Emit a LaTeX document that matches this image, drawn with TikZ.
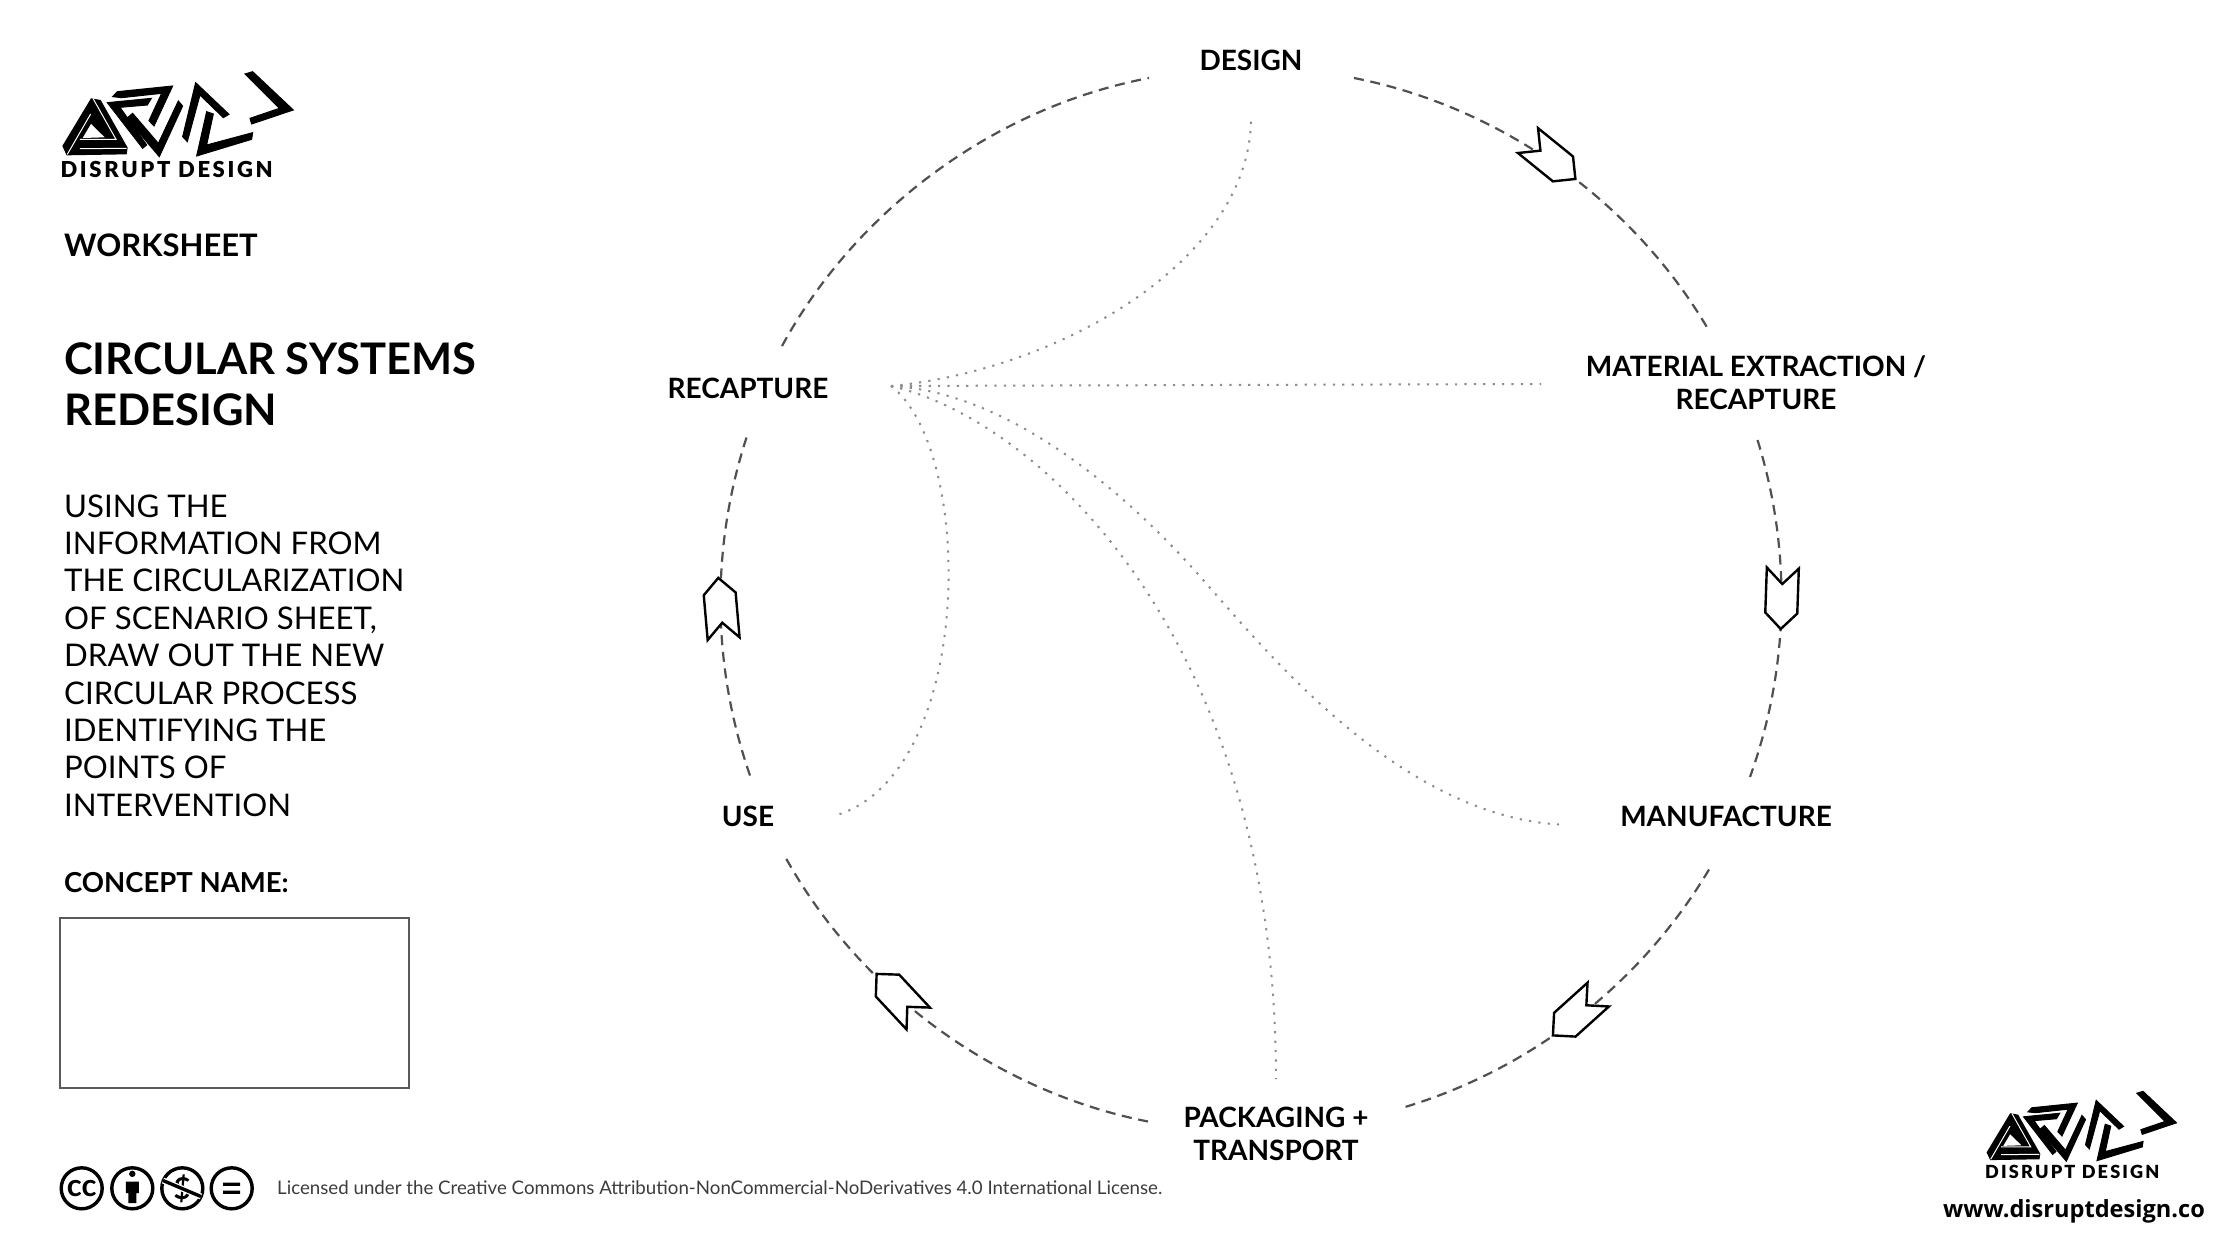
\documentclass[tikz,border=0pt]{standalone}
\usepackage{fontspec}
\setmainfont{Lato}
\newfontfamily\heavyfont{Lato Black}
\newfontfamily\webfont{Open Sans}
\definecolor{ringgray}{RGB}{80,80,80}
\definecolor{dotgray}{RGB}{140,140,140}
\definecolor{framegray}{RGB}{90,90,90}
\definecolor{licensegray}{RGB}{60,60,60}
\tikzset{
 stage/.style={align=center, inner sep=0pt, text=black, font=\bfseries\fontsize{28}{33}\selectfont},
 sidetext/.style={anchor=west, align=left, inner sep=0pt, text=black},
 ring/.style={draw=ringgray, line width=2.2pt, dash pattern=on 10pt off 6.7pt, bend left=#1, looseness=.88},
 reach/.style={draw=dotgray, line width=2pt, dash pattern=on 2.2pt off 7.2pt},
 badge/.style={draw=black, line width=3.4pt, circle, minimum size=41pt, inner sep=0pt},
 logoshape/.style={fill=black, draw=black, line width=1pt},
 chevron/.pic={
  \draw[black, line width=2.4pt, fill=white, line join=miter]
   (0,-22) -- (-16,-38) -- (-16,7) -- (0,23) -- (16,7) -- (16,-38) -- cycle;
 },
 logomark/.pic={
  % triangle
  \fill[black] (183,145) -- (97,288) -- (110,316) -- (290,313) -- (293,293) -- (212,150) -- cycle;
  \fill[white] (183,222) -- (158,264) -- (224,262) -- cycle;
  \draw[white, line width=1pt] (182,192) -- (112,313) (190,147) -- (258,268) -- (150,268) (150,296) -- (290,295);
  % R
  \path[logoshape] (248,140) -- (262,125) -- (428,108) -- (372,228) -- (357,212) -- (395,130) -- (275,143) -- cycle;
  \path[logoshape] (232,158) -- (364,145) -- (352,165) -- (270,172) -- (350,285) -- (338,295) -- cycle;
  % V
  \path[logoshape] (290,205) -- (308,190) -- (385,280) -- (445,153) -- (458,168) -- (388,320) -- cycle;
  % N
  \path[logoshape] (458,260) -- (497,98) -- (597,193) -- (580,203) -- (510,135) -- (472,275) -- cycle;
  \path[logoshape] (530,185) -- (550,192) -- (530,285) -- (668,248) -- (665,268) -- (500,318) -- cycle;
  % arrow
  \path[logoshape] (645,72) -- (668,65) -- (790,180) -- (665,222) -- (660,205) -- (748,175) -- cycle;
  \node[transform shape, inner sep=0pt, font=\heavyfont\fontsize{66}{66}\selectfont\addfontfeature{LetterSpace=12}] (name) at (410,359) {DISRUPT DESIGN};
 }
}

\begin{document}
\begin{tikzpicture}[x=1pt, y=-1pt]
\useasboundingbox[fill=white] (0,0) rectangle (2226,1248);

% stages
\node[stage] (design) at (1251,60) {DESIGN};
\node[stage] (material) at (1756,383) {MATERIAL EXTRACTION /\\RECAPTURE};
\node[stage] (manufacture) at (1726,816.5) {MANUFACTURE};
\node[stage] (packaging) at (1276,1134) {PACKAGING +\\TRANSPORT};
\node[stage] (use) at (748,816.5) {USE};
\node[stage] (recapture) at (748,388) {RECAPTURE};
\coordinate (hub) at ([shift={(143,-2)}]recapture.center);

% outer loop
\draw[ring=24.2] ([shift={(103,18)}]design.center) to ([shift={(-48,-54)}]material.center);
\draw[ring=18.5] ([shift={(1.5,57)}]material.center) to ([shift={(24,-39.5)}]manufacture.center);
\draw[ring=21.2] ([shift={(-17,53)}]manufacture.center) to ([shift={(129,-27)}]packaging.center);
\draw[ring=25] ([shift={(-128,-12.5)}]packaging.center) to ([shift={(37,40)}]use.center);
\draw[ring=18.8] ([shift={(2,-41)}]use.center) to ([shift={(0,45)}]recapture.center);
\draw[ring=25.3] ([shift={(34,-42)}]recapture.center) to ([shift={(-102,18)}]design.center);

% recapture lines
\draw[reach] (hub) .. controls (1060,370) and (1251,260) .. ([shift={(0,58)}]design.center);
\draw[reach] (hub) -- ([shift={(-215,1)}]material.center);
\draw[reach] (hub) .. controls (1010,392) and (1130,495) .. (1207.5,585)
 .. controls (1267,652) and (1400,815) .. ([shift={(-167,8)}]manufacture.center);
\draw[reach] (hub) .. controls (1040,420) and (1276,640) .. ([shift={(0,-55)}]packaging.center);
\draw[reach] (hub) .. controls (975,450) and (975,770) .. ([shift={(90.5,-2)}]use.center);

% markers on the loop
\pic[rotate=51] at (1557.5,164.5) {chevron};
\pic[rotate=-2] at (1781.5,606) {chevron};
\pic[rotate=-48] at (1570,1020) {chevron};
\pic[rotate=-137] at (892.3,990.7) {chevron};
\pic[rotate=-175] at (720.3,600.8) {chevron};

% left column
\pic[scale=.3333] (toplogo) at (30,50) {logomark};
\node[sidetext, font=\bfseries\fontsize{31}{38}\selectfont] (worksheet) at (64,245) {WORKSHEET};
\node[sidetext, font=\bfseries\fontsize{43.5}{51}\selectfont] (title) at (64,384.5) {CIRCULAR SYSTEMS\\REDESIGN};
\node[sidetext, font=\fontsize{31.2}{37.4}\selectfont] (brief) at (64,655.5) {USING THE\\INFORMATION FROM\\THE CIRCULARIZATION\\OF SCENARIO SHEET,\\DRAW OUT THE NEW\\CIRCULAR PROCESS\\IDENTIFYING THE\\POINTS OF\\INTERVENTION};
\node[sidetext, font=\bfseries\fontsize{27.5}{35}\selectfont] (concept) at (64,883) {CONCEPT NAME:};
\node[draw=framegray, line width=2pt, anchor=north west, minimum width=348.5pt, minimum height=169.5pt, inner sep=0pt] (namebox) at (59,917) {};

% licence badges
\node[badge, font=\bfseries\fontsize{31}{31}\selectfont] (cc) at (81.7,1188.3) {cc};
\node[badge] (by) at (132.3,1188.3) {};
\fill[black] (by.center) ++(0,-14.5) circle (3.2);
\fill[black] (125.8,1181.5) -- (138.8,1181.5) -- (138.8,1193) -- (136.3,1193) -- (136.3,1203) -- (128.3,1203) -- (128.3,1193) -- (125.8,1193) -- cycle;
\node[badge, font=\bfseries\fontsize{30}{30}\selectfont] (nc) at (182.3,1188.3) {\$};
\draw[white, line width=6pt] (163,1180.5) -- (201,1196.5);
\draw[black, line width=3.4pt] (163,1180.5) -- (201,1196.5);
\node[badge] (nd) at (231.7,1188.3) {};
\fill[black] (223,1182.5) rectangle (240,1185.8) (223,1190.5) rectangle (240,1193.8);
\node[sidetext, text=licensegray, font=\fontsize{18.7}{23}\selectfont] (licence) at (277,1187.5) {Licensed under the Creative Commons Attribution-NonCommercial-NoDerivatives 4.0 International License.};

% bottom right
\pic[scale=.274] (bottomlogo) at (1960,1073.5) {logomark};
\node[inner sep=0pt, font=\webfont\bfseries\fontsize{23.6}{30}\selectfont] (website) at (2074,1211) {www.disruptdesign.co};

\end{tikzpicture}
\end{document}
